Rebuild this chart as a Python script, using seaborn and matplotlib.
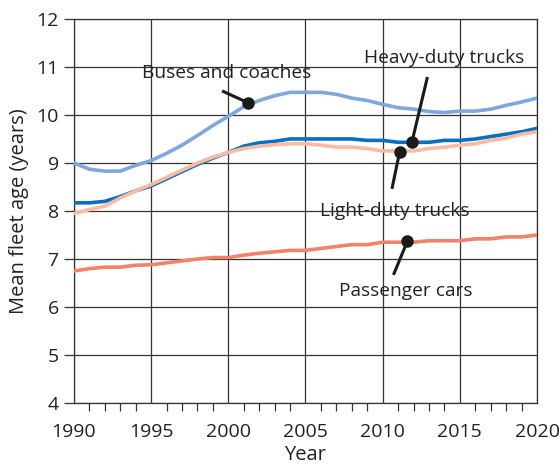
import numpy as np
import pandas as pd
import matplotlib
matplotlib.use("Agg")
import matplotlib.pyplot as plt
import seaborn as sns
from matplotlib.ticker import MultipleLocator

years = list(range(1990, 2021))

buses = [9.00, 8.87, 8.83, 8.83, 8.95, 9.05, 9.20, 9.37, 9.57, 9.78, 9.97,
         10.17, 10.30, 10.40, 10.47, 10.47, 10.47, 10.43, 10.35, 10.30, 10.22,
         10.15, 10.12, 10.07, 10.05, 10.08, 10.08, 10.12, 10.20, 10.27, 10.35]
heavy = [8.17, 8.17, 8.20, 8.30, 8.42, 8.52, 8.67, 8.82, 8.97, 9.10, 9.22,
         9.35, 9.42, 9.45, 9.50, 9.50, 9.50, 9.50, 9.50, 9.47, 9.47,
         9.43, 9.43, 9.43, 9.47, 9.47, 9.50, 9.55, 9.60, 9.65, 9.72]
light = [7.95, 8.03, 8.10, 8.27, 8.42, 8.55, 8.70, 8.85, 9.00, 9.12, 9.22,
         9.30, 9.35, 9.38, 9.40, 9.40, 9.37, 9.33, 9.33, 9.30, 9.25,
         9.25, 9.25, 9.30, 9.33, 9.37, 9.40, 9.47, 9.52, 9.60, 9.65]
cars = [6.75, 6.80, 6.83, 6.83, 6.87, 6.88, 6.92, 6.96, 7.00, 7.03, 7.03,
        7.08, 7.12, 7.15, 7.18, 7.18, 7.22, 7.26, 7.30, 7.30, 7.35,
        7.35, 7.35, 7.38, 7.38, 7.38, 7.42, 7.42, 7.46, 7.46, 7.50]

series_names = ["Buses and coaches", "Heavy-duty trucks", "Light-duty trucks", "Passenger cars"]
series_colors = ["#7EA8DC", "#0A6FBE", "#FBBBA2", "#F2836B"]

# label text, dot (x, y), line end (x, y), text centre (x, y)
labels = [
    ("Buses and coaches", (2001.3, 10.25), (1999.6, 10.50), (1999.9, 10.88)),
    ("Heavy-duty trucks", (2011.9, 9.44), (2012.9, 10.79), (2014.0, 11.19)),
    ("Light-duty trucks", (2011.1, 9.23), (2010.6, 8.46), (2010.8, 8.00)),
    ("Passenger cars", (2011.6, 7.37), (2010.7, 6.67), (2011.5, 6.33)),
]

df = pd.DataFrame({
    "Year": years * 4,
    "Age": buses + heavy + light + cars,
    "Type": sum([[n] * len(years) for n in series_names], []),
})

sns.set_style("white")
plt.rcParams["font.family"] = ["Open Sans", "DejaVu Sans"]

fig = plt.figure(figsize=(5.6, 4.72), dpi=100)
ax = fig.add_axes([0.132, 0.146, 0.827, 0.814])

sns.lineplot(data=df, x="Year", y="Age", hue="Type", hue_order=series_names,
             palette=series_colors, linewidth=2.6, legend=False, ax=ax, zorder=3)

ax.set_xlim(1990, 2020)
ax.set_ylim(4, 12)
ax.xaxis.set_major_locator(MultipleLocator(5))
ax.xaxis.set_minor_locator(MultipleLocator(1))
ax.yaxis.set_major_locator(MultipleLocator(1))
ax.grid(True, which="major", color="#333333", linewidth=0.9)
for s in ax.spines.values():
    s.set_color("#333333")
    s.set_linewidth(0.9)
ax.tick_params(axis="x", which="major", direction="out", length=8, width=0.9,
               color="#333333", labelsize=14, pad=6)
ax.tick_params(axis="x", which="minor", direction="out", length=6, width=0.9,
               color="#333333", bottom=True)
ax.tick_params(axis="y", which="major", direction="out", length=7, width=0.9,
               color="#333333", labelsize=14, left=True, pad=4)
ax.set_xlabel("Year", fontsize=14.5, color="#222222", labelpad=3)
ax.set_ylabel("Mean fleet age (years)", fontsize=14.5, color="#222222", labelpad=5)
for t in ax.get_xticklabels() + ax.get_yticklabels():
    t.set_color("#222222")

for text, dot, end, pos in labels:
    ax.plot([dot[0], end[0]], [dot[1], end[1]], color="#1a1a1a", linewidth=2.2, zorder=4,
            solid_capstyle="butt")
    ax.plot(dot[0], dot[1], "o", color="#1a1a1a", markersize=8, zorder=5)
    ax.text(pos[0], pos[1], text, ha="center", va="center", fontsize=13.8,
            color="#222222", zorder=6)

fig.savefig("out.png", dpi=100)
